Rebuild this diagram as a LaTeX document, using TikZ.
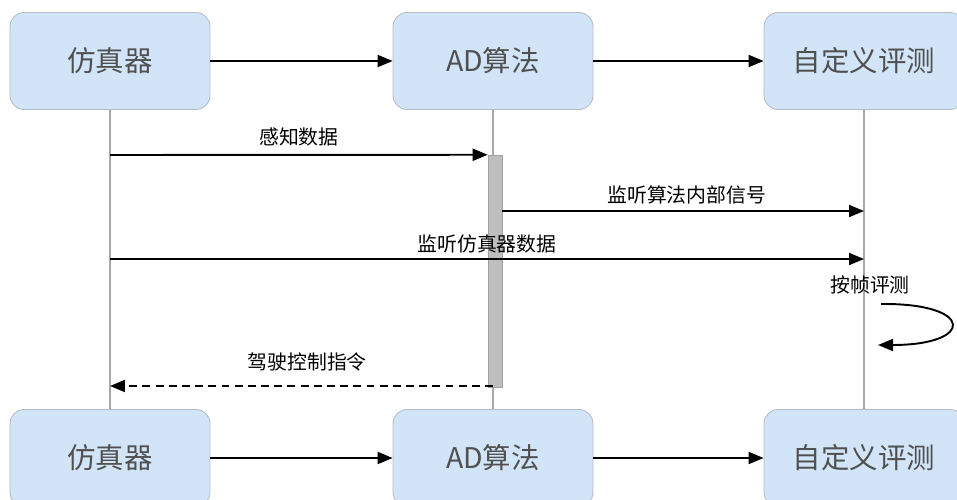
\documentclass[tikz,border=0pt]{standalone}
\usepackage{fontspec}
\setmainfont{Noto Sans CJK SC}
\usetikzlibrary{arrows.meta, positioning, calc}
\definecolor{boxblue}{HTML}{D2E5F8}
\definecolor{boxline}{HTML}{B4BCC6}
\definecolor{boxtext}{HTML}{505050}
\definecolor{lifegray}{HTML}{A8A8A8}
\definecolor{bargray}{HTML}{BEBEBE}
\tikzstyle{actor} = [rectangle, rounded corners=8pt, minimum width=4cm, minimum height=1.94cm, text centered, draw=boxline, line width=0.5pt, fill=boxblue, text=boxtext, font=\fontsize{16.2}{19}\selectfont]
\tikzstyle{arrow} = [line width=1.1pt, -{Triangle[length=0.3cm, width=0.24cm]}]
\tikzstyle{dasharrow} = [line width=1.1pt, dash pattern=on 4.5pt off 3pt, -{Triangle[length=0.3cm, width=0.24cm]}]
\tikzstyle{lifeline} = [line width=1.2pt, draw=lifegray]
\tikzstyle{msg} = [font=\fontsize{11.3}{13}\selectfont, text=black, inner sep=0pt, anchor=center]

\begin{document}
\begin{tikzpicture}[x=0.02cm, y=-0.02cm]
  \useasboundingbox (0,0) rectangle (957,500);
  \clip (0,0) rectangle (957,500);

  % Participants (top)
  \node[actor] (simtop) at (110,61) {仿真器};
  \node[actor] (adtop) at (493,61) {AD算法};
  \node[actor] (evaltop) at (864,61) {自定义评测};

  % Participants (bottom)
  \node[actor] (simbot) at (110,458) {仿真器};
  \node[actor] (adbot) at (493,458) {AD算法};
  \node[actor] (evalbot) at (864,458) {自定义评测};

  % Lifelines
  \draw[lifeline] (simtop.south) -- (simbot.north);
  \draw[lifeline] (adtop.south) -- (adbot.north);
  \draw[lifeline] (evaltop.south) -- (evalbot.north);

  % Activation bar
  \node[rectangle, fill=bargray, draw=bargray!85!black, line width=0.3pt, minimum width=0.28cm, minimum height=4.64cm, inner sep=0pt] (bar) at (495,271) {};

  % Header flows
  \draw[arrow] (simtop) -- (adtop);
  \draw[arrow] (adtop) -- (evaltop);
  \draw[arrow] (simbot) -- (adbot);
  \draw[arrow] (adbot) -- (evalbot);

  % Message end points
  \coordinate (s1) at (simtop.south |- 0,155);
  \coordinate (s2) at (simtop.south |- 0,259);
  \coordinate (s3) at (simtop.south |- 0,386);
  \coordinate (e1) at (evaltop.south |- 0,211);
  \coordinate (e2) at (evaltop.south |- 0,259);
  \coordinate (b1) at (bar.north west);
  \coordinate (b2) at (bar.east |- 0,211);
  \coordinate (b3) at (adtop.south |- 0,386);
  \coordinate (l1) at (881,304);
  \coordinate (l2) at (878,345);

  % Messages
  \draw[arrow] (s1) -- node[msg, midway, yshift=10.2pt]{感知数据} (b1);
  \draw[arrow] (b2) -- node[msg, pos=0.51, yshift=9pt]{监听算法内部信号} (e1);
  \draw[arrow] (s2) -- node[msg, midway, yshift=8.3pt]{监听仿真器数据} (e2);
  \node[msg] (selfeval) at (870,285) {按帧评测};
  \draw[arrow] (l1) .. controls (975,303) and (975,345) .. (l2);
  \draw[dasharrow] (b3) -- node[msg, pos=0.485, yshift=13.6pt]{驾驶控制指令} (s3);
\end{tikzpicture}
\end{document}
